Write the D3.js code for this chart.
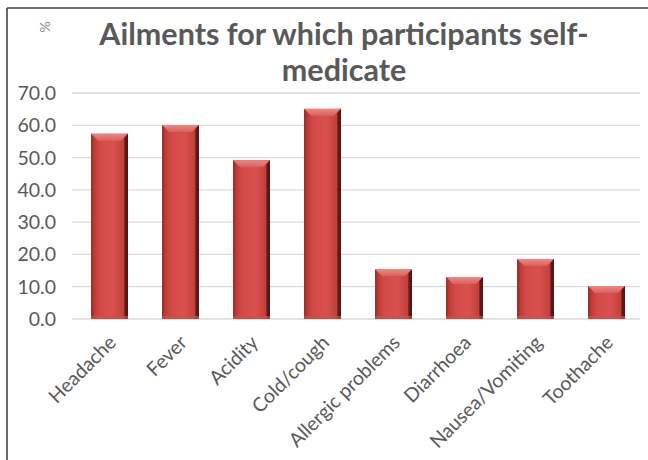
<!DOCTYPE html>
<html><head><meta charset="utf-8">
<script src="https://cdn.jsdelivr.net/npm/d3@7"></script>
<style>body{margin:0;background:#fff}svg{display:block}</style>
</head><body>
<svg id="c" width="648" height="460"></svg>
<script>
const categories = ["Headache","Fever","Acidity","Cold/cough","Allergic problems","Diarrhoea","Nausea/Vomiting","Toothache"];
const values = [57.4, 60.1, 49.2, 65.1, 15.4, 13.0, 18.6, 10.2];
const yTicks = [0,10,20,30,40,50,60,70];
const titleLines = ["Ailments for which participants self-","medicate"];
const yTitle = "%";

(function(){
const svg = d3.select("#c");
const W = 648, H = 460;
const pLeft = 74, pRight = 642, pTop = 93, pBottom = 319;

const x = d3.scaleBand().domain(categories).range([pLeft, pRight]).paddingInner(0.48).paddingOuter(0.24);
const y = d3.scaleLinear().domain([0,70]).range([pBottom, pTop]);

const defs = svg.append("defs");
const g1 = defs.append("linearGradient").attr("id","barH").attr("x1",0).attr("x2",1).attr("y1",0).attr("y2",0);
[[0,"#8c2a27"],[0.08,"#b83c38"],[0.25,"#d44a46"],[0.6,"#d9514d"],[0.88,"#c2403c"],[0.92,"#6e1a18"],[1,"#4a0f0e"]]
  .forEach(([o,c])=>g1.append("stop").attr("offset",o).attr("stop-color",c));
const g2 = defs.append("linearGradient").attr("id","barTop").attr("x1",0).attr("x2",0).attr("y1",0).attr("y2",1);
[[0,"#e98a86"],[1,"#d8605c"]].forEach(([o,c])=>g2.append("stop").attr("offset",o).attr("stop-color",c));
const f = defs.append("filter").attr("id","blur").attr("x","-20%").attr("y","-20%").attr("width","140%").attr("height","140%");
f.append("feGaussianBlur").attr("stdDeviation",0.6);

svg.append("line").attr("x1",7).attr("x2",W).attr("y1",8).attr("y2",8).attr("stroke","#444").attr("stroke-width",1.6);
svg.append("line").attr("x1",7).attr("x2",7).attr("y1",8).attr("y2",H).attr("stroke","#444").attr("stroke-width",1.6);

svg.append("g").selectAll("line").data(yTicks).join("line")
  .attr("x1",72).attr("x2",640)
  .attr("y1",d=>y(d)).attr("y2",d=>y(d))
  .attr("stroke","#d9d9d9").attr("stroke-width",1.3);

svg.append("g").selectAll("text").data(yTicks).join("text")
  .attr("x",56).attr("y",d=>y(d)).attr("dy","0.36em")
  .attr("text-anchor","end").attr("font-family","Lato, 'Open Sans', sans-serif")
  .attr("font-size",19.5).attr("fill","#595959").text(d=>d.toFixed(1));

svg.append("text").attr("transform","translate(45,27) rotate(-90)")
  .attr("text-anchor","middle").attr("dy","0.35em")
  .attr("font-family","Lato, sans-serif").attr("font-size",14).attr("fill","#8a8a8a").text(yTitle);

svg.append("g").selectAll("text").data(titleLines).join("text")
  .attr("x",344).attr("y",(d,i)=>45+i*36)
  .attr("text-anchor","middle").attr("font-family","Lato, 'Open Sans', sans-serif")
  .attr("font-weight","bold").attr("font-size",30.5).attr("fill","#595959").text(d=>d);

const bw = x.bandwidth();
const bars = svg.append("g").selectAll("g").data(categories).join("g");
bars.append("rect")
  .attr("x",d=>x(d)).attr("y",(d,i)=>y(values[i]))
  .attr("width",bw).attr("height",(d,i)=>pBottom-y(values[i]))
  .attr("fill","url(#barH)").attr("filter","url(#blur)");
bars.append("path")
  .attr("d",(d,i)=>{const x0=x(d), y0=y(values[i]), b=7;
    return `M${x0},${y0}L${x0+bw},${y0}L${x0+bw-b},${y0+b}L${x0+b},${y0+b}Z`;})
  .attr("fill","url(#barTop)").attr("filter","url(#blur)");
bars.append("rect")
  .attr("x",d=>x(d)).attr("y",pBottom-3).attr("width",bw).attr("height",3)
  .attr("fill","#c9534f").attr("opacity",0.7);

svg.append("g").selectAll("text").data(categories).join("text")
  .attr("transform",d=>`translate(${x(d)+bw/2+3},${pBottom+20}) rotate(-45)`)
  .attr("text-anchor","end").attr("dy","0.35em")
  .attr("font-family","Lato, 'Open Sans', sans-serif")
  .attr("font-size",19.5).attr("fill","#595959").text(d=>d);
})();
</script>
</body></html>
